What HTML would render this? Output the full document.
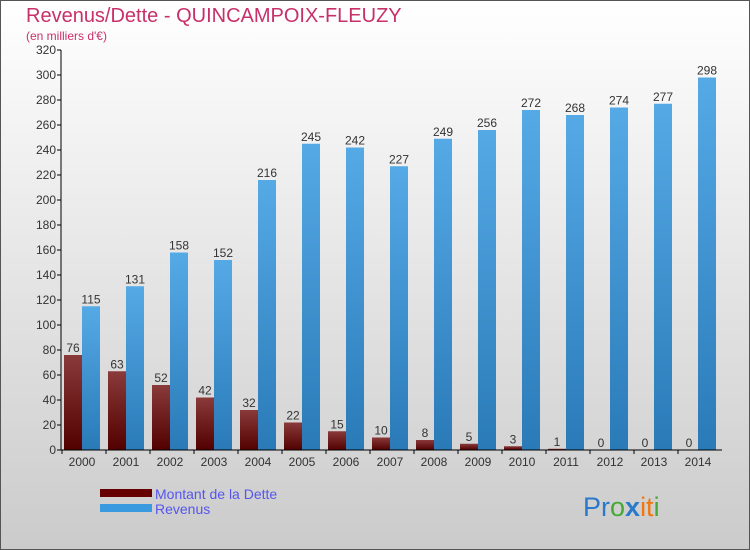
<!DOCTYPE html>
<html><head><meta charset="utf-8"><style>
body{margin:0}
#c{width:750px;height:550px;position:relative;overflow:hidden;font-family:"Liberation Sans","DejaVu Sans",sans-serif}
</style></head><body>
<div id="c">
<svg width="750" height="550" xmlns="http://www.w3.org/2000/svg">
<defs>
<linearGradient id="bg" x1="0" y1="0" x2="0" y2="1"><stop offset="0" stop-color="#ffffff"/><stop offset="1" stop-color="#cbcbcb"/></linearGradient>
<linearGradient id="gd" x1="0" y1="0" x2="0" y2="1"><stop offset="0" stop-color="#8a3a3a"/><stop offset="1" stop-color="#520000"/></linearGradient>
<linearGradient id="gr" x1="0" y1="0" x2="0" y2="1"><stop offset="0" stop-color="#55aae6"/><stop offset="1" stop-color="#2a7ab8"/></linearGradient>
</defs>
<rect x="0.5" y="0.5" width="749" height="549" fill="url(#bg)" stroke="#555"/>
<text x="26" y="22" font-size="20" fill="#c8306a">Revenus/Dette - QUINCAMPOIX-FLEUZY</text>
<text x="26" y="40" font-size="12" fill="#c8306a">(en milliers d'€)</text>
<g id="plot"></g>
<rect x="100" y="489" width="52" height="8" fill="#660000"/>
<rect x="100" y="504" width="52" height="8" fill="#3a9ae0"/>
<text x="155" y="499" font-size="14" fill="#5555ee">Montant de la Dette</text>
<text x="155" y="514" font-size="14" fill="#5555ee">Revenus</text>
<text x="583" y="516" font-size="27"><tspan fill="#2a7acc">Pr</tspan><tspan fill="#44aa33">o</tspan><tspan fill="#2a7acc" font-weight="bold">x</tspan><tspan fill="#ee7711">it</tspan><tspan fill="#44aa33">i</tspan></text>
</svg>
</div>
<script>
const years=["2000","2001","2002","2003","2004","2005","2006","2007","2008","2009","2010","2011","2012","2013","2014"];
const dette=[76,63,52,42,32,22,15,10,8,5,3,1,0,0,0];
const revenus=[115,131,158,152,216,245,242,227,249,256,272,268,274,277,298];
const yTicks=[0,20,40,60,80,100,120,140,160,180,200,220,240,260,280,300,320];
const NS="http://www.w3.org/2000/svg";
const g=document.getElementById('plot');
const y=v=>450-v*400/320;
const gx=i=>64+44*i;
function mk(t,a){const e=document.createElementNS(NS,t);for(const k in a)e.setAttribute(k,a[k]);g.appendChild(e);return e;}
years.forEach((yr,i)=>{
  const b1=mk('rect',{x:gx(i),y:y(dette[i]),width:18,height:450-y(dette[i]),fill:'url(#gd)'});
  
  
  const b2=mk('rect',{x:gx(i)+18,y:y(revenus[i]),width:18,height:450-y(revenus[i]),fill:'url(#gr)'});
  
  
  const t1=mk('text',{x:gx(i)+9,y:y(dette[i])-3,'font-size':12,fill:'#333','text-anchor':'middle'});
  t1.textContent=dette[i];
  
  
  const t2=mk('text',{x:gx(i)+27,y:y(revenus[i])-3,'font-size':12,fill:'#333','text-anchor':'middle'});
  t2.textContent=revenus[i];
  
  
  const xl=mk('text',{x:gx(i)+18,y:466,'font-size':12,fill:'#333','text-anchor':'middle'});
  xl.textContent=yr;
  
  
  const xt=mk('line',{x1:gx(i)-2,x2:gx(i)-2,y1:450,y2:454,stroke:'#000'});
  
  
});
yTicks.forEach(v=>{
  const l=mk('line',{x1:57,x2:61,y1:y(v),y2:y(v),stroke:'#000'});
  
  
  const t=mk('text',{x:56,y:y(v)+4,'font-size':12,fill:'#333','text-anchor':'end'});
  t.textContent=v;
  
  
});
const ya=mk('line',{x1:61,x2:61,y1:50,y2:450,stroke:'#000'});


const xa=mk('line',{x1:61,x2:722,y1:450,y2:450,stroke:'#000'});


</script>
</body></html>
